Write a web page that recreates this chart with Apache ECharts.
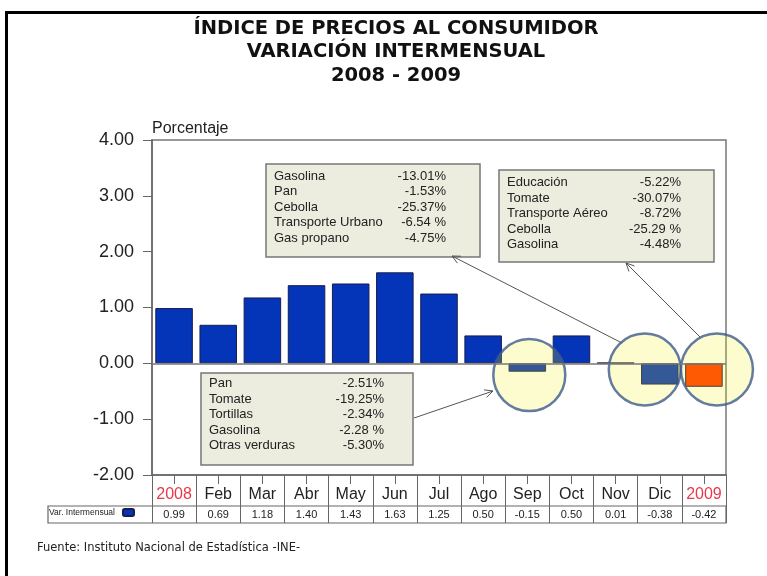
<!DOCTYPE html>
<html>
<head>
<meta charset="utf-8">
<script src="https://cdn.jsdelivr.net/npm/echarts@6/dist/echarts.min.js"></script>
<style>
  html, body { margin: 0; padding: 0; background: #fff; }
  #main { width: 767px; height: 576px; }
</style>
</head>
<body>
<div id="main"></div>
<script>
'use strict';
// monthly variation of the IPC, 2008 - 2009
var categories = ['2008', 'Feb', 'Mar', 'Abr', 'May', 'Jun', 'Jul', 'Ago', 'Sep', 'Oct', 'Nov', 'Dic', '2009'];
var values = [0.99, 0.69, 1.18, 1.40, 1.43, 1.63, 1.25, 0.50, -0.15, 0.50, 0.01, -0.38, -0.42];
var yMin = -2, yMax = 4, yStep = 1;
var yearLabels = ['2008', '2009'];

// highlighted months (circles)
var circleCats = ['Sep', 'Dic', '2009'];
var circleVals = [-0.21, -0.11, -0.11];

// notes
var note1Names = ['Gasolina', 'Pan', 'Cebolla', 'Transporte Urbano', 'Gas propano'];
var note1Vals = ['-13.01%', '-1.53%', '-25.37%', '-6.54 %', '-4.75%'];
var note2Names = ['Educación', 'Tomate', 'Transporte Aéreo', 'Cebolla', 'Gasolina'];
var note2Vals = ['-5.22%', '-30.07%', '-8.72%', '-25.29 %', '-4.48%'];
var note3Names = ['Pan', 'Tomate', 'Tortillas', 'Gasolina', 'Otras verduras'];
var note3Vals = ['-2.51%', '-19.25%', '-2.34%', '-2.28 %', '-5.30%'];

var GL = 152, GR = 41, GT = 140, GB = 101;
var W = 767, H = 576;
var AX = '#666';
var FONT = '"Liberation Sans", Arial, sans-serif';

var circleShift = [2, -15, 13];

function noteBox(x, y, w, h, names, vals, valRight, pad) {
  return {
    type: 'group',
    children: [
      { type: 'rect', shape: { x: x, y: y, width: w, height: h },
        style: { fill: '#ececdf', stroke: '#777', lineWidth: 1.5 } },
      { type: 'text', style: { x: x + 8, y: y + pad, text: names.join('\n'),
        font: '13px ' + FONT, fill: '#222', lineHeight: 15.5, verticalAlign: 'top' } },
      { type: 'text', style: { x: valRight, y: y + pad, text: vals.join('\n'), align: 'right',
        font: '13px ' + FONT, fill: '#222', lineHeight: 15.5, verticalAlign: 'top' } }
    ]
  };
}

function arrow(x1, y1, x2, y2) {
  var a = Math.atan2(y2 - y1, x2 - x1), s = 9, t = 0.45;
  return {
    type: 'group',
    children: [
      { type: 'line', shape: { x1: x1, y1: y1, x2: x2, y2: y2 }, style: { stroke: '#555', lineWidth: 1 } },
      { type: 'polyline', shape: { points: [
          [x2 - s * Math.cos(a - t), y2 - s * Math.sin(a - t)], [x2, y2],
          [x2 - s * Math.cos(a + t), y2 - s * Math.sin(a + t)]] },
        style: { stroke: '#555', lineWidth: 1, fill: null } }
    ]
  };
}

var chart = echarts.init(document.getElementById('main'));
chart.setOption({
  backgroundColor: '#fff',
  animation: false,
  legend: {
    data: ['Var. Intermensual'],
    left: 49, top: 508, padding: 0,
    itemWidth: 11, itemHeight: 7, align: 'right', itemGap: 0,
    textStyle: { fontSize: 8.5, fontFamily: FONT, color: '#222', padding: [0, 3, 0, 0] }
  },
  grid: {
    left: GL, right: GR, top: GT, bottom: GB,
    show: true, borderColor: '#777', borderWidth: 1.5
  },
  xAxis: [{
    type: 'category', data: categories, position: 'bottom',
    axisLine: { onZero: false, lineStyle: { color: AX, width: 1.5 } },
    axisTick: { show: true, alignWithLabel: true, interval: 0, length: 9, lineStyle: { color: AX } },
    axisLabel: {
      margin: 12, fontSize: 16, fontFamily: FONT, interval: 0,
      color: function (v) { return yearLabels.indexOf(v) >= 0 ? '#e8394a' : '#222'; }
    }
  }, {
    type: 'category', data: values.map(function (v) { return v.toFixed(2); }), position: 'bottom',
    axisLine: { show: false, onZero: false },
    axisTick: { show: true, alignWithLabel: false, interval: 0, length: 48, lineStyle: { color: AX } },
    axisLabel: { margin: 34, fontSize: 11, fontFamily: FONT, color: '#222', interval: 0 }
  }],
  yAxis: {
    type: 'value', min: yMin, max: yMax, interval: yStep,
    name: 'Porcentaje', nameLocation: 'end', nameGap: 3,
    nameTextStyle: { fontSize: 16, fontFamily: FONT, color: '#222', align: 'left' },
    axisLine: { show: true, lineStyle: { color: AX, width: 1.5 } },
    axisTick: { show: true, length: 9, lineStyle: { color: AX } },
    axisLabel: { margin: 18, fontSize: 18, fontFamily: FONT, color: '#222',
      formatter: function (v) { return v.toFixed(2); } },
    splitLine: { show: false }
  },
  series: [{
    name: 'Var. Intermensual', type: 'bar', xAxisIndex: 0,
    barCategoryGap: '15%',
    itemStyle: { color: '#0434b8', borderColor: '#1a1d4d', borderWidth: 1 },
    data: values.map(function (v, i) {
      return categories[i] === '2009' ? { value: v, itemStyle: { color: '#ff3500' } } : v;
    }),
    markLine: {
      silent: true, symbol: 'none', label: { show: false },
      lineStyle: { color: '#777', width: 1.5, type: 'solid' },
      data: [{ yAxis: 0 }]
    }
  }, {
    name: 'marcas', type: 'scatter', xAxisIndex: 0, clip: false, silent: true,
    symbol: 'circle', symbolSize: 72,
    itemStyle: { color: 'rgba(245,239,13,0.25)', borderColor: '#3d5a8c', borderWidth: 2.5 },
    data: circleCats.map(function (c, i) {
      return { value: [c, circleVals[i]], symbolOffset: [circleShift[i], 0] };
    })
  }],
  graphic: [
    { type: 'line', shape: { x1: 6.5, y1: 11, x2: 6.5, y2: H }, style: { stroke: '#000', lineWidth: 3 } },
    { type: 'line', shape: { x1: 5, y1: 12.5, x2: W, y2: 12.5 }, style: { stroke: '#000', lineWidth: 3 } },
    { type: 'text', style: { x: 396, y: 17, text: 'ÍNDICE DE PRECIOS AL CONSUMIDOR\nVARIACIÓN INTERMENSUAL\n2008 - 2009',
      align: 'center', verticalAlign: 'top', lineHeight: 23.5,
      font: 'bold 19.5px "DejaVu Sans", Verdana, sans-serif', fill: '#111' } },
    { type: 'text', style: { x: 37, y: 542, text: 'Fuente: Instituto Nacional de Estadística -INE-',
      font: '11.5px "DejaVu Sans", sans-serif', fill: '#222', verticalAlign: 'top' } },
    { type: 'rect', shape: { x: 48, y: H - GB + 31, width: W - GR - 48, height: 17 },
      style: { fill: null, stroke: AX, lineWidth: 1.2 } },
    noteBox(266, 164, 214, 93, note1Names, note1Vals, 446, 4.5),
    noteBox(499, 170, 215, 92, note2Names, note2Vals, 681, 5),
    noteBox(201, 373, 212, 92, note3Names, note3Vals, 384, 3),
    arrow(622, 343, 452, 256),
    arrow(700, 337, 626, 263),
    arrow(414, 418, 493, 391)
  ]
});
</script>
</body>
</html>
